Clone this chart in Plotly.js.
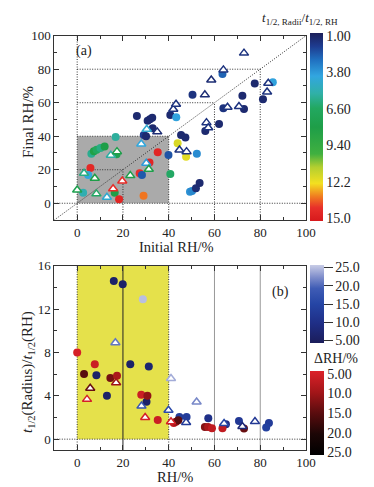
<!DOCTYPE html>
<html><head><meta charset="utf-8">
<script src="https://cdn.plot.ly/plotly-3.0.1.min.js"></script>
<style>html,body{margin:0;padding:0;background:#fff}#chart{width:374px;height:487px}</style>
</head><body><div id="chart"></div>
<script>
// ---------- Panel (a): Initial RH vs Final RH, colour = t1/2,Radii / t1/2,RH ----------
const aCircX = [26.1,30.8,31.8,32.8,33.0,29.1,30.1,40.7,50.4,45.4,47.3,39.9,43.3,43.9,47.6,52.3,49.3,50.2,51.9,53.5,62.0,56.0,63.5,63.9,72.2,72.9,77.6,81.2,85.5,35.2,31.6,27.3,28.3,29.0,40.7,16.8,6.2,7.3,8.5,10.2,12.0,17.2,5.8,4.8,2.6,16.4,18.3];
const aCircY = [52.1,49.2,50.2,51.0,44.8,40.8,40.0,52.7,64.8,40.8,39.2,28.8,51.3,35.8,27.8,29.6,6.9,7.3,9.0,12.1,47.3,43.1,77.2,56.7,64.2,56.3,71.4,62.1,72.2,30.4,24.3,17.9,16.9,4.4,17.5,39.6,29.5,31.0,32.0,33.0,33.8,29.2,21.1,16.9,6.3,6.3,2.4];
const aCircR = [1.2,1.2,1.2,1.2,1.2,1.8,1.2,1.2,1.5,1.2,1.2,2.3,4.0,11.8,12.0,3.5,3.6,3.4,1.3,1.2,1.2,1.2,2.6,1.5,1.2,1.2,1.2,1.2,4.0,14.6,14.6,14.3,2.4,13.4,6.5,5.6,5.8,8.2,6.6,6.0,8.0,7.5,14.5,4.2,5.2,8.0,14.6];
const aTriX = [0,3.0,7.7,8.4,13.0,15.7,19.7,23.2,14.7,17.4,28.0,30.2,31.3,30.4,35.0,42.0,43.2,44.7,47.8,55.8,56.5,57.3,58.6,63.9,65.7,70.7,72.9,83.0,83.5];
const aTriY = [7.9,17.9,14.9,5.6,3.6,8.7,13.3,16.5,28.6,30.8,35.4,23.9,20.3,44.2,42.6,56.1,59.1,31.8,30.8,64.7,48.1,45.1,73.6,79.6,57.3,57.7,89.6,66.4,71.6];
const aTriR = [7.5,6.0,8.0,6.5,4.5,14.3,14.3,7.8,5.5,7.8,4.2,3.8,7.8,4.5,1.3,1.5,1.5,1.5,1.5,1.3,1.5,1.5,1.3,1.5,1.5,1.5,1.5,1.5,1.5];
const aCbTicks = [1.0,3.8,6.6,9.4,12.2,15.0];
const aCbLabels = ["1.00","3.80","6.60","9.40","12.2","15.0"];

// ---------- Panel (b): RH vs t1/2(Radius)/t1/2(RH), colour = ΔRH ----------
const bBlueCircX = [16.0,19.9,28.7,23.2,31.3,8.4,13.0,30.3,44.7,47.8,57.3,65.0,70.7,83.8,82.6];
const bBlueCircY = [14.6,14.3,12.9,6.9,6.7,5.9,4.0,3.45,2.05,2.05,1.93,1.38,1.68,1.5,1.07];
const bBlueCircD = [6,6,25,6,7,6,6,6,13,13,10,9,12,13,14];
const bRedCircX = [0,3.0,7.7,14.5,17.4,28.0,30.7,35.2,42.2,43.2,44.2,55.8,57.2,58.9,63.5,72.9];
const bRedCircY = [8.0,6.0,6.9,5.65,5.85,4.1,4.0,1.77,1.5,1.6,1.75,1.13,1.13,1.0,1.0,0.98];
const bRedCircD = [5,15,6,13,9,6,11,6,7,11,15,12,9,7,7,14];
const bBlueTriX = [16.7,28.1,41.0,39.9,47.6,52.2,64.2,72.2,77.7];
const bBlueTriY = [8.9,3.05,5.6,2.66,1.53,3.43,1.44,1.17,1.62];
const bBlueTriD = [21,18,24,16,13,22,15,8,12];
const bRedTriX = [5.7,4.3,17.0,29.7,41.0];
const bRedTriY = [4.7,3.67,5.2,2.0,1.6];
const bRedTriD = [14,5,10,5,5];
const bBlueTicks = [25,20,15,10,5];
const bBlueLabels = ["25.0","20.0","15.0","10.0","5.00"];
const bRedTicks = [5,10,15,20,25];
const bRedLabels = ["5.00","10.0","15.0","20.0","25.0"];

const axTicks = [0,20,40,60,80,100];

const FONT = "Liberation Serif, Times New Roman, serif";
const W = 374, H = 487;
const px = v => v / W, py = v => 1 - v / H;
const neg = a => a.map(v => -v);

const scaleA = [
  [0.000,'#d7191c'],[0.071,'#e8302a'],[0.129,'#f07a20'],[0.200,'#f3e020'],
  [0.286,'#b4cf30'],[0.357,'#40b040'],[0.500,'#1e9e48'],[0.600,'#22a860'],
  [0.679,'#30b0a8'],[0.771,'#32a6e0'],[0.857,'#2070c0'],[0.929,'#1e3c90'],[1.000,'#1c1f5a']];
const scaleBlue = [[0,'#1b1d5a'],[0.25,'#1f2e86'],[0.5,'#2545a5'],[0.7,'#3f5cb5'],[0.85,'#8290cc'],[1,'#c8cce6']];
const scaleRed = [[0,'#000000'],[0.25,'#1c0606'],[0.5,'#5a0c0e'],[0.75,'#a41619'],[1,'#dc2129']];

const traces = [
  {x:aCircX, y:aCircY, xaxis:'x', yaxis:'y', mode:'markers', type:'scatter',
   marker:{size:8, color:neg(aCircR), coloraxis:'coloraxis', line:{width:0}}},
  {x:aTriX, y:aTriY, xaxis:'x', yaxis:'y', mode:'markers', type:'scatter',
   marker:{symbol:'triangle-up', size:8, color:'white', line:{width:1.5, color:neg(aTriR), coloraxis:'coloraxis'}}},
  {x:bBlueCircX, y:bBlueCircY, xaxis:'x2', yaxis:'y2', mode:'markers', type:'scatter',
   marker:{size:8, color:bBlueCircD, coloraxis:'coloraxis2', line:{width:0}}},
  {x:bRedCircX, y:bRedCircY, xaxis:'x2', yaxis:'y2', mode:'markers', type:'scatter',
   marker:{size:8, color:neg(bRedCircD), coloraxis:'coloraxis3', line:{width:0}}},
  {x:bBlueTriX, y:bBlueTriY, xaxis:'x2', yaxis:'y2', mode:'markers', type:'scatter',
   marker:{symbol:'triangle-up', size:8, color:'white', line:{width:1.5, color:bBlueTriD, coloraxis:'coloraxis2'}}},
  {x:bRedTriX, y:bRedTriY, xaxis:'x2', yaxis:'y2', mode:'markers', type:'scatter',
   marker:{symbol:'triangle-up', size:8, color:'white', line:{width:1.5, color:neg(bRedTriD), coloraxis:'coloraxis3'}}}
];

const baseAxis = {
  showline:true, mirror:'ticks', linecolor:'#333', linewidth:1, showgrid:false, zeroline:false,
  ticks:'inside', ticklen:5, tickcolor:'#333', tickfont:{family:FONT, size:13, color:'#222'}
};
const dot = {color:'#333', width:1, dash:'1px,1.5px'};
function ln(xr, yr, x0, y0, x1, y1, line) {
  return {type:'line', xref:xr, yref:yr, x0, y0, x1, y1, line: line || dot, layer:'below'};
}
const shapes = [
  {type:'rect', xref:'x', yref:'y', x0:0, x1:40, y0:0, y1:40, fillcolor:'#aaaaaa', line:{width:0}, layer:'below'},
  ln('x','y',-10,0,100,0), ln('x','y',0,20,20,20), ln('x','y',0,40,40,40), ln('x','y',0,60,60,60), ln('x','y',0,80,80,80),
  ln('x','y',0,-10,0,100), ln('x','y',20,-10,20,20), ln('x','y',40,-10,40,40), ln('x','y',60,-10,60,60), ln('x','y',80,-10,80,80),
  ln('x','y',-10,-10,100,100),
  {type:'rect', xref:'x2', yref:'y2', x0:0, x1:40, y0:0, y1:16, fillcolor:'#e5e14b', line:{width:0}, layer:'below'},
  ln('x2','y2',0,-1,0,16),
  ln('x2','y2',20,-1,20,16,{color:'#222',width:1}),
  ln('x2','y2',40,-1,40,16),
  ln('x2','y2',60,-1,60,16,{color:'#999',width:1}),
  ln('x2','y2',80,-1,80,16,{color:'#999',width:1}),
  ln('x2','y2',-10,0,100,0)
];

function ann(text, x, y, size, extra) {
  return Object.assign({text, xref:'paper', yref:'paper', x:px(x), y:py(y), xanchor:'center', yanchor:'middle',
    showarrow:false, font:{family:FONT, size, color:'#222'}}, extra || {});
}
const annotations = [
  ann('Final RH/%', 28, 122, 15, {textangle:-90}),
  ann('Initial RH/%', 176, 247, 14.5),
  ann('RH/%', 175, 477, 14.5),
  ann('<i>t</i><sub>1/2</sub>(Radius)/<i>t</i><sub>1/2</sub>(RH)', 28, 372, 15, {textangle:-90}),
  ann('<i>t</i><sub>1/2, Radii</sub>/<i>t</i><sub>1/2, RH</sub>', 300, 19, 13),
  ann('ΔRH/%', 336, 358, 14),
  ann('(a)', 84, 51, 14),
  ann('(b)', 280, 292, 14)
];

const cbFont = {family:FONT, size:14, color:'#222'};
const layout = {
  width:W, height:H, margin:{l:0, r:0, t:0, b:0}, showlegend:false,
  paper_bgcolor:'#fff', plot_bgcolor:'rgba(0,0,0,0)',
  xaxis: Object.assign({}, baseAxis, {domain:[px(54.3), px(306)], range:[-10,100], tickvals:axTicks, anchor:'y',
    minor:{ticks:'inside', ticklen:3, dtick:10, tick0:0, tickcolor:'#333'}}),
  yaxis: Object.assign({}, baseAxis, {domain:[py(220), py(35.7)], range:[-10,100], tickvals:axTicks, anchor:'x',
    minor:{ticks:'inside', ticklen:3, dtick:10, tick0:0, tickcolor:'#333'}}),
  xaxis2: Object.assign({}, baseAxis, {domain:[px(54.3), px(306)], range:[-10,100], tickvals:axTicks, anchor:'y2',
    minor:{ticks:'inside', ticklen:3, dtick:10, tick0:0, tickcolor:'#333'}}),
  yaxis2: Object.assign({}, baseAxis, {domain:[py(450), py(265.7)], range:[-1,16], tickvals:[0,4,8,12,16], anchor:'x2',
    minor:{ticks:'inside', ticklen:3, dtick:2, tick0:0, tickcolor:'#333'}}),
  coloraxis:{colorscale:scaleA, cmin:-15.2, cmax:-0.8, showscale:true,
    colorbar:{x:px(310), xanchor:'left', y:py(33), yanchor:'top', len:188, lenmode:'pixels', thickness:13,
      xpad:0, ypad:0, outlinewidth:0, ticks:'', tickvals:neg(aCbTicks), ticktext:aCbLabels, tickfont:cbFont}},
  coloraxis2:{colorscale:scaleBlue, cmin:4.3, cmax:25.7, showscale:true,
    colorbar:{x:px(310), xanchor:'left', y:py(265), yanchor:'top', len:78, lenmode:'pixels', thickness:14,
      xpad:0, ypad:0, outlinewidth:0, ticks:'outside', ticklen:9, tickcolor:'#333', tickwidth:1,
      tickvals:bBlueTicks, ticktext:bBlueLabels, tickfont:cbFont}},
  coloraxis3:{colorscale:scaleRed, cmin:-25.7, cmax:-4.3, showscale:true,
    colorbar:{x:px(310), xanchor:'left', y:py(371), yanchor:'top', len:84, lenmode:'pixels', thickness:14,
      xpad:0, ypad:0, outlinewidth:0, ticks:'', tickvals:neg(bRedTicks), ticktext:bRedLabels, tickfont:cbFont}},
  shapes, annotations
};
Plotly.newPlot('chart', traces, layout, {staticPlot:true, displayModeBar:false});
</script></body></html>
